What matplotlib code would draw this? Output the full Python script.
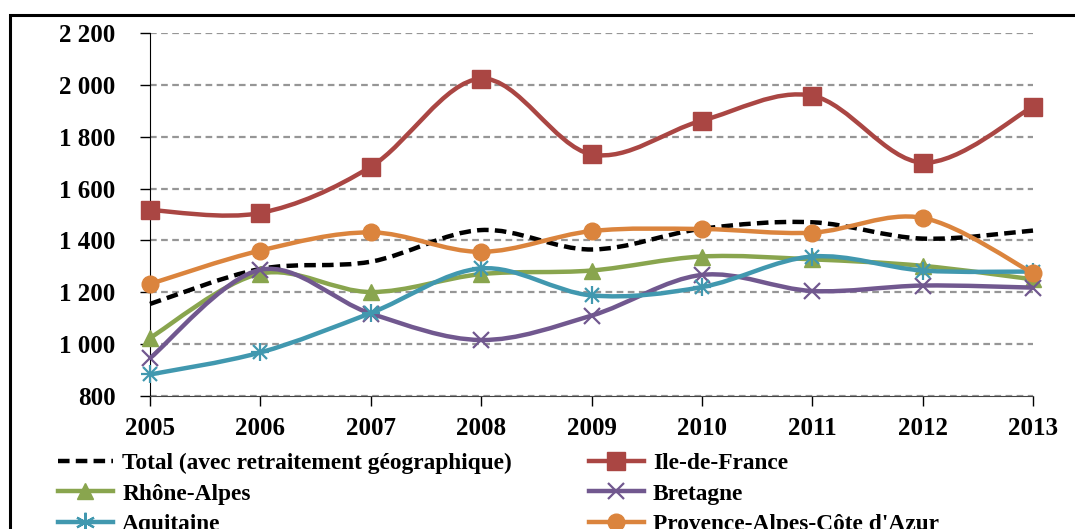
import matplotlib
matplotlib.use("Agg")
import matplotlib.pyplot as plt
from matplotlib.path import Path
from matplotlib.patches import PathPatch, Rectangle
from matplotlib.lines import Line2D
import numpy as np

# data
years = [2005, 2006, 2007, 2008, 2009, 2010, 2011, 2012, 2013]
total = [1155, 1290, 1318, 1440, 1365, 1445, 1470, 1407, 1438]
ile_de_france = [1517, 1506, 1684, 2024, 1732, 1862, 1958, 1700, 1916]
rhone_alpes = [1024, 1272, 1201, 1270, 1284, 1338, 1327, 1302, 1250]
bretagne = [946, 1287, 1118, 1016, 1110, 1267, 1205, 1226, 1218]
aquitaine = [883, 968, 1120, 1292, 1188, 1220, 1338, 1284, 1280]
paca = [1232, 1361, 1431, 1356, 1436, 1444, 1430, 1487, 1274]

yticks = [800, 1000, 1200, 1400, 1600, 1800, 2000, 2200]

plt.rcParams['font.family'] = ['Liberation Serif', 'DejaVu Serif']
plt.rcParams['font.weight'] = 'bold'

FS_TICK = 18
FS_LEG = 16.8


def smooth_path(xs, ys):
    # Excel style smoothed line: cubic bezier segments through the points
    x = np.asarray(xs, dtype=float)
    y = np.asarray(ys, dtype=float)
    n = len(x)
    verts = [(x[0], y[0])]
    codes = [Path.MOVETO]
    for i in range(n - 1):
        i0 = max(i - 1, 0)
        i3 = min(i + 2, n - 1)
        c1 = (x[i] + (x[i + 1] - x[i0]) / 6, y[i] + (y[i + 1] - y[i0]) / 6)
        c2 = (x[i + 1] - (x[i3] - x[i]) / 6, y[i + 1] - (y[i3] - y[i]) / 6)
        verts += [c1, c2, (x[i + 1], y[i + 1])]
        codes += [Path.CURVE4] * 3
    return Path(verts, codes)


fig = plt.figure(figsize=(10.75, 5.29), dpi=100)
ax = fig.add_axes([150 / 1075, 1 - 396 / 529, (1033 - 150) / 1075, (396 - 33) / 529])

series = [
    ("Total (avec retraitement géographique)", total, "black", None, 0, "--"),
    ("Ile-de-France", ile_de_france, "#AA4643", "s", 13, "-"),
    ("Rhône-Alpes", rhone_alpes, "#89A54E", "^", 12, "-"),
    ("Bretagne", bretagne, "#71588F", "x", 12, "-"),
    ("Aquitaine", aquitaine, "#4198AF", "*", 0, "-"),
    ("Provence-Alpes-Côte d'Azur", paca, "#DB843D", "o", 12, "-"),
]

handles = {}
for z, (name, vals, col, mk, ms, ls) in enumerate(series):
    dash = (0, (2.6, 1.4)) if ls == "--" else "-"
    patch = PathPatch(smooth_path(years, vals), fill=False, edgecolor=col,
                      lw=3.2, linestyle=dash, capstyle='butt', zorder=3 + z,
                      clip_on=False)
    ax.add_patch(patch)
    if mk == "*":
        # asterisk marker: plus and cross overlaid
        ax.plot(years, vals, linestyle='none', marker='+', ms=13, mew=1.6,
                color=col, zorder=3 + z, clip_on=False)
        ax.plot(years, vals, linestyle='none', marker='x', ms=10, mew=1.6,
                color=col, zorder=3 + z, clip_on=False)
    elif mk == "x":
        ax.plot(years, vals, linestyle='none', marker='x', ms=ms, mew=1.6,
                color=col, zorder=3 + z, clip_on=False)
    elif mk is not None:
        ax.plot(years, vals, linestyle='none', marker=mk, ms=ms, color=col,
                mec=col, zorder=3 + z, clip_on=False)
    if mk == "*":
        handles[name] = Line2D([], [], color=col, lw=3.2, marker=(6, 2, 0),
                               ms=14, mew=1.6)
    elif mk == "x":
        handles[name] = Line2D([], [], color=col, lw=3.2, marker='x', ms=ms,
                               mew=1.6)
    elif mk is None:
        handles[name] = Line2D([], [], color=col, lw=3.2, linestyle=dash,
                               dash_capstyle='butt')
    else:
        handles[name] = Line2D([], [], color=col, lw=3.2, marker=mk, ms=ms)

ax.set_xlim(2005, 2013)
ax.set_ylim(800, 2200)
ax.set_xticks(years)
ax.set_xticklabels([str(y) for y in years])
ax.set_yticks(yticks)
ax.set_yticklabels([f"{v:,}".replace(",", " ") for v in yticks])
ax.yaxis.grid(True, color='#969696', linestyle=(0, (3, 2)), lw=1.6)
ax.set_axisbelow(True)
for s in ['top', 'right']:
    ax.spines[s].set_visible(False)
ax.spines['left'].set_color('black')
ax.spines['bottom'].set_color('#444444')
ax.tick_params(axis='y', direction='out', length=7, width=1, pad=18,
               labelsize=FS_TICK)
ax.tick_params(axis='x', direction='out', length=7, width=1, pad=8,
               labelsize=FS_TICK)

order = ["Total (avec retraitement géographique)", "Rhône-Alpes", "Aquitaine",
         "Ile-de-France", "Bretagne", "Provence-Alpes-Côte d'Azur"]
fig.legend([handles[k] for k in order], order, loc='upper left',
           bbox_to_anchor=(58 / 1075, 1 - 453 / 529), ncol=2, frameon=False,
           fontsize=FS_LEG, handlelength=2.35, handletextpad=0.4,
           columnspacing=3.3, labelspacing=0.38, borderaxespad=0,
           borderpad=0)

fig.add_artist(Rectangle((10 / 1075, -0.2), 1.2, 1.2 - 15 / 529, fill=False,
                         edgecolor='black', lw=2.2,
                         transform=fig.transFigure, clip_on=False))

fig.savefig("out.png", dpi=100)
